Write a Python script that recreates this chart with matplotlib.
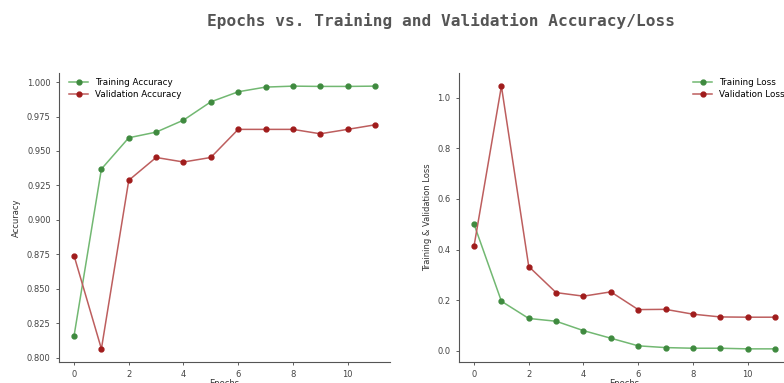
import matplotlib.pyplot as plt

epochs = list(range(12))
train_acc = [0.8157, 0.9369, 0.9596, 0.9637, 0.9724, 0.9857, 0.9930, 0.9964, 0.9971, 0.9969, 0.9969, 0.9971]
val_acc = [0.8740, 0.8063, 0.9287, 0.9453, 0.9420, 0.9453, 0.9657, 0.9657, 0.9657, 0.9625, 0.9657, 0.9690]
train_loss = [0.500, 0.196, 0.128, 0.117, 0.080, 0.050, 0.020, 0.013, 0.0105, 0.0105, 0.008, 0.008]
val_loss = [0.414, 1.045, 0.333, 0.230, 0.216, 0.233, 0.163, 0.164, 0.145, 0.134, 0.133, 0.133]

GREEN_LINE, GREEN_MK = "#72b872", "#3f8a3f"
RED_LINE, RED_MK = "#bd5e5e", "#a01c1c"

W, H = 784, 383
fig = plt.figure(figsize=(W / 100, H / 100), dpi=100)

# axes positions in pixels (left, top, right, bottom); right panel runs off the canvas
ax1 = fig.add_axes([59 / W, 1 - 362 / H, (390 - 59) / W, (362 - 73) / H])
ax2 = fig.add_axes([459 / W, 1 - 362 / H, (790 - 459) / W, (362 - 73) / H])

def draw(ax, y1, y2, l1, l2):
    ax.plot(epochs, y1, color=GREEN_LINE, lw=1.1, marker="o", ms=3.5,
            mfc=GREEN_MK, mec=GREEN_MK, label=l1)
    ax.plot(epochs, y2, color=RED_LINE, lw=1.1, marker="o", ms=3.5,
            mfc=RED_MK, mec=RED_MK, label=l2)
    for s in ("top", "right"):
        ax.spines[s].set_visible(False)
    for s in ("left", "bottom"):
        ax.spines[s].set_color("#555555")
        ax.spines[s].set_linewidth(0.8)
    ax.tick_params(labelsize=6, colors="#444444", length=2.5, width=0.6)
    ax.set_xticks([0, 2, 4, 6, 8, 10])
    ax.set_xlabel("Epochs", fontsize=6, color="#333333", labelpad=-0.5)

draw(ax1, train_acc, val_acc, "Training Accuracy", "Validation Accuracy")
ax1.set_ylabel("Accuracy", fontsize=6, color="#333333")
ax1.legend(loc="upper left", frameon=False, fontsize=6.3, handlelength=2.2,
           borderaxespad=0.2, labelspacing=0.3, bbox_to_anchor=(0.015, 1.0))

draw(ax2, train_loss, val_loss, "Training Loss", "Validation Loss")
ax2.set_ylabel("Training & Validation Loss", fontsize=6, color="#333333")
ax2.set_yticks([0.0, 0.2, 0.4, 0.6, 0.8, 1.0])
ax2.legend(loc="upper right", frameon=False, fontsize=6.3, handlelength=2.2,
           borderaxespad=0.2, labelspacing=0.3)

fig.text(441 / W, 1 - 21 / H, "Epochs vs. Training and Validation Accuracy/Loss",
         ha="center", va="center", fontsize=11.6, fontweight="bold",
         family="DejaVu Sans Mono", color="#555555")

fig.savefig("out.png", dpi=100)
